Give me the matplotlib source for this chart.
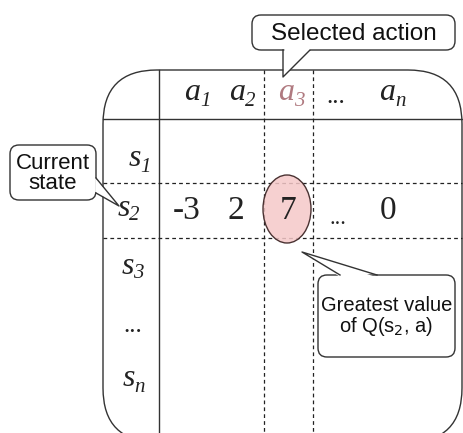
import matplotlib.pyplot as plt
from matplotlib.patches import FancyBboxPatch, Ellipse, Polygon

# table contents
actions = ['1', '2', '3', None, 'n']      # subscripts of a, None = "..."
states = ['1', '2', '3', None, 'n']       # subscripts of s
q_row = ['-3', '2', '7', '...', '0']
selected = 2
current = 1

col_x = [192, 237, 286, 336, 387]
row_x = [135, 124, 128, 133, 129]
row_y = [159, 208, 266, 322, 379]
val_x = [187, 236, 288, 338, 388]

INK = '#222222'
SERIF = 'Liberation Serif'

fig = plt.figure(figsize=(4.64, 4.33), dpi=100)
ax = fig.add_axes([0, 0, 1, 1])
ax.set_xlim(0, 464)
ax.set_ylim(433, 0)
ax.axis('off')

# outer rounded table
ax.add_patch(FancyBboxPatch((103, 70), 359, 372, boxstyle='round,pad=0,rounding_size=54',
                            fc='white', ec='#333333', lw=1.0, zorder=1))
ax.plot([159, 159], [70, 433], color='#333333', lw=1.0, zorder=2)
ax.plot([103, 462], [119, 119], color='#333333', lw=1.0, zorder=2)

# dashed guide lines
for x in [264, 313]:
    ax.plot([x, x], [70, 433], color=INK, lw=0.9, ls=(0, (3, 2.5)), zorder=2)
for y in [183, 238]:
    ax.plot([103, 462], [y, y], color=INK, lw=0.9, ls=(0, (3, 2.5)), zorder=2)

# highlight of the greatest value
ax.add_patch(Ellipse((287, 209), 48, 68, fc='#f5c8c8', ec='none', alpha=0.85, zorder=3))
ax.add_patch(Ellipse((287, 209), 48, 68, fc='none', ec='#4a3232', lw=1.0, zorder=3))


def sym(x, y, letter, sub, color=INK, off=8):
    if sub is None:
        ax.text(x, y + 4, '...', fontsize=18, color=color, ha='center', va='center',
                family=SERIF, zorder=4)
        return
    ax.text(x, y, letter, fontsize=23, style='italic', color=color, ha='center',
            va='center', family=SERIF, zorder=4)
    ax.text(x + off, y + 8, sub, fontsize=15, style='italic', color=color, ha='left',
            va='center', family=SERIF, zorder=4)


for i, sub in enumerate(actions):
    sym(col_x[i], 93, 'a', sub, '#b07a80' if i == selected else INK)
for i, sub in enumerate(states):
    sym(row_x[i], row_y[i], 's', sub, off=5)
for i, v in enumerate(q_row):
    if v == '...':
        ax.text(val_x[i], row_y[current] + 11, v, fontsize=16, color=INK, ha='center',
                va='center', family=SERIF, zorder=4)
    else:
        ax.text(val_x[i], row_y[current] + 3, v, fontsize=24, color=INK, ha='center',
                va='center', family=SERIF, zorder=4)


def callout(x0, y0, x1, y1, base1, base2, tip, text, size):
    ax.add_patch(FancyBboxPatch((x0, y0), x1 - x0, y1 - y0, boxstyle='round,pad=0,rounding_size=9',
                                fc='white', ec='#333333', lw=1.0, zorder=5))
    # push the base slightly into the box so the fill hides the outline there
    cx, cy = (x0 + x1) / 2, (y0 + y1) / 2
    b1 = (base1[0] + (cx - base1[0]) * 0.02, base1[1] + (cy - base1[1]) * 0.06)
    b2 = (base2[0] + (cx - base2[0]) * 0.02, base2[1] + (cy - base2[1]) * 0.06)
    ax.add_patch(Polygon([b1, tip, b2], closed=True, fc='white', ec='none', zorder=6))
    ax.plot([base1[0], tip[0], base2[0]], [base1[1], tip[1], base2[1]], color='#333333', lw=1.0, zorder=7)
    ax.text(cx, cy + 1, text, fontsize=size, ha='center', va='center', family='Liberation Sans',
            color='#111111', linespacing=0.95, zorder=8)


callout(252, 15, 455, 50, (283, 50), (310, 50), (283, 77), 'Selected action', 17.5)
callout(10, 145, 96, 200, (96, 178), (96, 193), (119, 206), 'Current\nstate', 16)
callout(318, 275, 455, 357, (340, 275), (377, 275), (302, 252), 'Greatest value\nof Q(s$_2$, a)', 14.5)

fig.savefig('out.png', dpi=100)
